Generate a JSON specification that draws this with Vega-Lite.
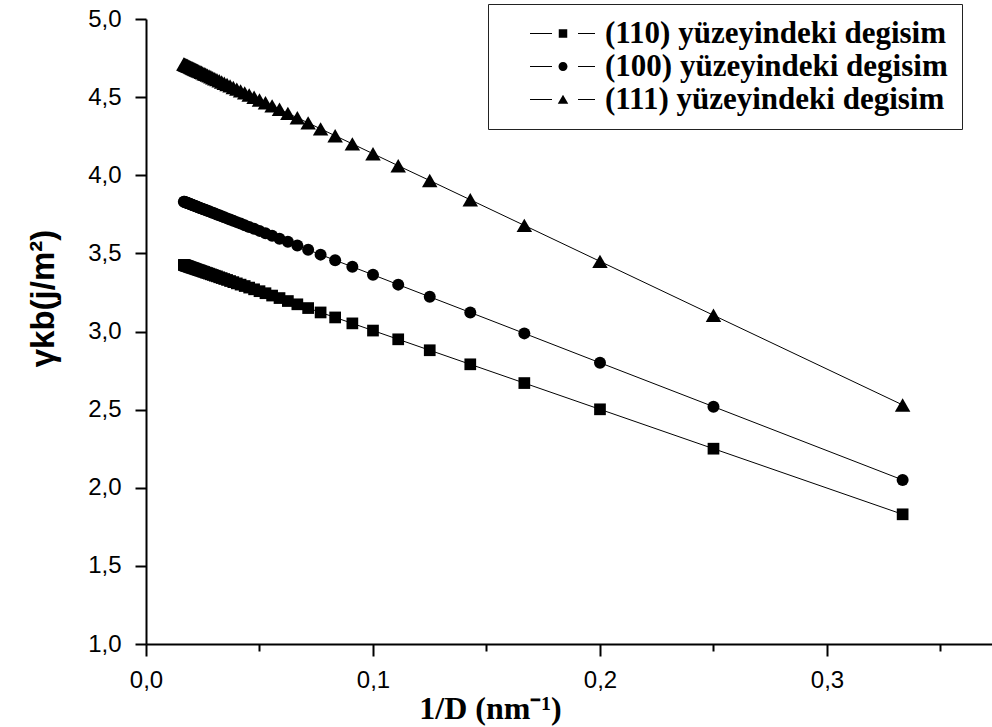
{
  "$schema": "https://vega.github.io/schema/vega-lite/v6.json",
  "width": 846,
  "height": 625,
  "autosize": {"type": "none"},
  "padding": {"left": 146, "top": 19, "right": 0, "bottom": 83},
  "background": "white",
  "config": {
    "view": {"stroke": null},
    "axis": {
      "domainColor": "black",
      "domainWidth": 2,
      "tickColor": "black",
      "tickWidth": 2,
      "grid": false,
      "labelFont": "Liberation Sans",
      "labelFontSize": 24,
      "labelColor": "black",
      "labelOverlap": false,
      "labelFlush": false,
      "titleColor": "black"
    }
  },
  "data": {
    "values": [
      {"s": "(110) yüzeyindeki degisim", "x": 0.33333, "y": 1.830},
      {"s": "(110) yüzeyindeki degisim", "x": 0.25, "y": 2.250},
      {"s": "(110) yüzeyindeki degisim", "x": 0.2, "y": 2.502},
      {"s": "(110) yüzeyindeki degisim", "x": 0.16667, "y": 2.670},
      {"s": "(110) yüzeyindeki degisim", "x": 0.14286, "y": 2.790},
      {"s": "(110) yüzeyindeki degisim", "x": 0.125, "y": 2.880},
      {"s": "(110) yüzeyindeki degisim", "x": 0.11111, "y": 2.950},
      {"s": "(110) yüzeyindeki degisim", "x": 0.1, "y": 3.006},
      {"s": "(110) yüzeyindeki degisim", "x": 0.09091, "y": 3.052},
      {"s": "(110) yüzeyindeki degisim", "x": 0.08333, "y": 3.090},
      {"s": "(110) yüzeyindeki degisim", "x": 0.07692, "y": 3.122},
      {"s": "(110) yüzeyindeki degisim", "x": 0.07143, "y": 3.150},
      {"s": "(110) yüzeyindeki degisim", "x": 0.06667, "y": 3.174},
      {"s": "(110) yüzeyindeki degisim", "x": 0.0625, "y": 3.195},
      {"s": "(110) yüzeyindeki degisim", "x": 0.05882, "y": 3.214},
      {"s": "(110) yüzeyindeki degisim", "x": 0.05556, "y": 3.230},
      {"s": "(110) yüzeyindeki degisim", "x": 0.05263, "y": 3.245},
      {"s": "(110) yüzeyindeki degisim", "x": 0.05, "y": 3.258},
      {"s": "(110) yüzeyindeki degisim", "x": 0.04762, "y": 3.270},
      {"s": "(110) yüzeyindeki degisim", "x": 0.04545, "y": 3.281},
      {"s": "(110) yüzeyindeki degisim", "x": 0.04348, "y": 3.291},
      {"s": "(110) yüzeyindeki degisim", "x": 0.04167, "y": 3.300},
      {"s": "(110) yüzeyindeki degisim", "x": 0.04, "y": 3.308},
      {"s": "(110) yüzeyindeki degisim", "x": 0.03846, "y": 3.316},
      {"s": "(110) yüzeyindeki degisim", "x": 0.03704, "y": 3.323},
      {"s": "(110) yüzeyindeki degisim", "x": 0.03571, "y": 3.330},
      {"s": "(110) yüzeyindeki degisim", "x": 0.03448, "y": 3.336},
      {"s": "(110) yüzeyindeki degisim", "x": 0.03333, "y": 3.342},
      {"s": "(110) yüzeyindeki degisim", "x": 0.03226, "y": 3.347},
      {"s": "(110) yüzeyindeki degisim", "x": 0.03125, "y": 3.353},
      {"s": "(110) yüzeyindeki degisim", "x": 0.0303, "y": 3.357},
      {"s": "(110) yüzeyindeki degisim", "x": 0.02941, "y": 3.362},
      {"s": "(110) yüzeyindeki degisim", "x": 0.02857, "y": 3.366},
      {"s": "(110) yüzeyindeki degisim", "x": 0.02778, "y": 3.370},
      {"s": "(110) yüzeyindeki degisim", "x": 0.02703, "y": 3.374},
      {"s": "(110) yüzeyindeki degisim", "x": 0.02632, "y": 3.377},
      {"s": "(110) yüzeyindeki degisim", "x": 0.02564, "y": 3.381},
      {"s": "(110) yüzeyindeki degisim", "x": 0.025, "y": 3.384},
      {"s": "(110) yüzeyindeki degisim", "x": 0.02439, "y": 3.387},
      {"s": "(110) yüzeyindeki degisim", "x": 0.02381, "y": 3.390},
      {"s": "(110) yüzeyindeki degisim", "x": 0.02326, "y": 3.393},
      {"s": "(110) yüzeyindeki degisim", "x": 0.02273, "y": 3.395},
      {"s": "(110) yüzeyindeki degisim", "x": 0.02222, "y": 3.398},
      {"s": "(110) yüzeyindeki degisim", "x": 0.02174, "y": 3.400},
      {"s": "(110) yüzeyindeki degisim", "x": 0.02128, "y": 3.403},
      {"s": "(110) yüzeyindeki degisim", "x": 0.02083, "y": 3.405},
      {"s": "(110) yüzeyindeki degisim", "x": 0.02041, "y": 3.407},
      {"s": "(110) yüzeyindeki degisim", "x": 0.02, "y": 3.409},
      {"s": "(110) yüzeyindeki degisim", "x": 0.01961, "y": 3.411},
      {"s": "(110) yüzeyindeki degisim", "x": 0.01923, "y": 3.413},
      {"s": "(110) yüzeyindeki degisim", "x": 0.01887, "y": 3.415},
      {"s": "(110) yüzeyindeki degisim", "x": 0.01852, "y": 3.417},
      {"s": "(110) yüzeyindeki degisim", "x": 0.01818, "y": 3.418},
      {"s": "(110) yüzeyindeki degisim", "x": 0.01786, "y": 3.420},
      {"s": "(110) yüzeyindeki degisim", "x": 0.01754, "y": 3.422},
      {"s": "(110) yüzeyindeki degisim", "x": 0.01724, "y": 3.423},
      {"s": "(110) yüzeyindeki degisim", "x": 0.01695, "y": 3.425},
      {"s": "(110) yüzeyindeki degisim", "x": 0.01667, "y": 3.426},
      {"s": "(100) yüzeyindeki degisim", "x": 0.33333, "y": 2.050},
      {"s": "(100) yüzeyindeki degisim", "x": 0.25, "y": 2.519},
      {"s": "(100) yüzeyindeki degisim", "x": 0.2, "y": 2.800},
      {"s": "(100) yüzeyindeki degisim", "x": 0.16667, "y": 2.988},
      {"s": "(100) yüzeyindeki degisim", "x": 0.14286, "y": 3.122},
      {"s": "(100) yüzeyindeki degisim", "x": 0.125, "y": 3.222},
      {"s": "(100) yüzeyindeki degisim", "x": 0.11111, "y": 3.300},
      {"s": "(100) yüzeyindeki degisim", "x": 0.1, "y": 3.363},
      {"s": "(100) yüzeyindeki degisim", "x": 0.09091, "y": 3.414},
      {"s": "(100) yüzeyindeki degisim", "x": 0.08333, "y": 3.456},
      {"s": "(100) yüzeyindeki degisim", "x": 0.07692, "y": 3.492},
      {"s": "(100) yüzeyindeki degisim", "x": 0.07143, "y": 3.523},
      {"s": "(100) yüzeyindeki degisim", "x": 0.06667, "y": 3.550},
      {"s": "(100) yüzeyindeki degisim", "x": 0.0625, "y": 3.574},
      {"s": "(100) yüzeyindeki degisim", "x": 0.05882, "y": 3.594},
      {"s": "(100) yüzeyindeki degisim", "x": 0.05556, "y": 3.613},
      {"s": "(100) yüzeyindeki degisim", "x": 0.05263, "y": 3.629},
      {"s": "(100) yüzeyindeki degisim", "x": 0.05, "y": 3.644},
      {"s": "(100) yüzeyindeki degisim", "x": 0.04762, "y": 3.657},
      {"s": "(100) yüzeyindeki degisim", "x": 0.04545, "y": 3.669},
      {"s": "(100) yüzeyindeki degisim", "x": 0.04348, "y": 3.680},
      {"s": "(100) yüzeyindeki degisim", "x": 0.04167, "y": 3.691},
      {"s": "(100) yüzeyindeki degisim", "x": 0.04, "y": 3.700},
      {"s": "(100) yüzeyindeki degisim", "x": 0.03846, "y": 3.709},
      {"s": "(100) yüzeyindeki degisim", "x": 0.03704, "y": 3.717},
      {"s": "(100) yüzeyindeki degisim", "x": 0.03571, "y": 3.724},
      {"s": "(100) yüzeyindeki degisim", "x": 0.03448, "y": 3.731},
      {"s": "(100) yüzeyindeki degisim", "x": 0.03333, "y": 3.738},
      {"s": "(100) yüzeyindeki degisim", "x": 0.03226, "y": 3.744},
      {"s": "(100) yüzeyindeki degisim", "x": 0.03125, "y": 3.749},
      {"s": "(100) yüzeyindeki degisim", "x": 0.0303, "y": 3.755},
      {"s": "(100) yüzeyindeki degisim", "x": 0.02941, "y": 3.760},
      {"s": "(100) yüzeyindeki degisim", "x": 0.02857, "y": 3.764},
      {"s": "(100) yüzeyindeki degisim", "x": 0.02778, "y": 3.769},
      {"s": "(100) yüzeyindeki degisim", "x": 0.02703, "y": 3.773},
      {"s": "(100) yüzeyindeki degisim", "x": 0.02632, "y": 3.777},
      {"s": "(100) yüzeyindeki degisim", "x": 0.02564, "y": 3.781},
      {"s": "(100) yüzeyindeki degisim", "x": 0.025, "y": 3.784},
      {"s": "(100) yüzeyindeki degisim", "x": 0.02439, "y": 3.788},
      {"s": "(100) yüzeyindeki degisim", "x": 0.02381, "y": 3.791},
      {"s": "(100) yüzeyindeki degisim", "x": 0.02326, "y": 3.794},
      {"s": "(100) yüzeyindeki degisim", "x": 0.02273, "y": 3.797},
      {"s": "(100) yüzeyindeki degisim", "x": 0.02222, "y": 3.800},
      {"s": "(100) yüzeyindeki degisim", "x": 0.02174, "y": 3.803},
      {"s": "(100) yüzeyindeki degisim", "x": 0.02128, "y": 3.805},
      {"s": "(100) yüzeyindeki degisim", "x": 0.02083, "y": 3.808},
      {"s": "(100) yüzeyindeki degisim", "x": 0.02041, "y": 3.810},
      {"s": "(100) yüzeyindeki degisim", "x": 0.02, "y": 3.813},
      {"s": "(100) yüzeyindeki degisim", "x": 0.01961, "y": 3.815},
      {"s": "(100) yüzeyindeki degisim", "x": 0.01923, "y": 3.817},
      {"s": "(100) yüzeyindeki degisim", "x": 0.01887, "y": 3.819},
      {"s": "(100) yüzeyindeki degisim", "x": 0.01852, "y": 3.821},
      {"s": "(100) yüzeyindeki degisim", "x": 0.01818, "y": 3.823},
      {"s": "(100) yüzeyindeki degisim", "x": 0.01786, "y": 3.825},
      {"s": "(100) yüzeyindeki degisim", "x": 0.01754, "y": 3.826},
      {"s": "(100) yüzeyindeki degisim", "x": 0.01724, "y": 3.828},
      {"s": "(100) yüzeyindeki degisim", "x": 0.01695, "y": 3.830},
      {"s": "(100) yüzeyindeki degisim", "x": 0.01667, "y": 3.831},
      {"s": "(111) yüzeyindeki degisim", "x": 0.33333, "y": 2.530},
      {"s": "(111) yüzeyindeki degisim", "x": 0.25, "y": 3.104},
      {"s": "(111) yüzeyindeki degisim", "x": 0.2, "y": 3.449},
      {"s": "(111) yüzeyindeki degisim", "x": 0.16667, "y": 3.679},
      {"s": "(111) yüzeyindeki degisim", "x": 0.14286, "y": 3.843},
      {"s": "(111) yüzeyindeki degisim", "x": 0.125, "y": 3.966},
      {"s": "(111) yüzeyindeki degisim", "x": 0.11111, "y": 4.061},
      {"s": "(111) yüzeyindeki degisim", "x": 0.1, "y": 4.138},
      {"s": "(111) yüzeyindeki degisim", "x": 0.09091, "y": 4.201},
      {"s": "(111) yüzeyindeki degisim", "x": 0.08333, "y": 4.253},
      {"s": "(111) yüzeyindeki degisim", "x": 0.07692, "y": 4.297},
      {"s": "(111) yüzeyindeki degisim", "x": 0.07143, "y": 4.335},
      {"s": "(111) yüzeyindeki degisim", "x": 0.06667, "y": 4.368},
      {"s": "(111) yüzeyindeki degisim", "x": 0.0625, "y": 4.396},
      {"s": "(111) yüzeyindeki degisim", "x": 0.05882, "y": 4.422},
      {"s": "(111) yüzeyindeki degisim", "x": 0.05556, "y": 4.444},
      {"s": "(111) yüzeyindeki degisim", "x": 0.05263, "y": 4.464},
      {"s": "(111) yüzeyindeki degisim", "x": 0.05, "y": 4.482},
      {"s": "(111) yüzeyindeki degisim", "x": 0.04762, "y": 4.499},
      {"s": "(111) yüzeyindeki degisim", "x": 0.04545, "y": 4.514},
      {"s": "(111) yüzeyindeki degisim", "x": 0.04348, "y": 4.527},
      {"s": "(111) yüzeyindeki degisim", "x": 0.04167, "y": 4.540},
      {"s": "(111) yüzeyindeki degisim", "x": 0.04, "y": 4.551},
      {"s": "(111) yüzeyindeki degisim", "x": 0.03846, "y": 4.562},
      {"s": "(111) yüzeyindeki degisim", "x": 0.03704, "y": 4.572},
      {"s": "(111) yüzeyindeki degisim", "x": 0.03571, "y": 4.581},
      {"s": "(111) yüzeyindeki degisim", "x": 0.03448, "y": 4.589},
      {"s": "(111) yüzeyindeki degisim", "x": 0.03333, "y": 4.597},
      {"s": "(111) yüzeyindeki degisim", "x": 0.03226, "y": 4.605},
      {"s": "(111) yüzeyindeki degisim", "x": 0.03125, "y": 4.612},
      {"s": "(111) yüzeyindeki degisim", "x": 0.0303, "y": 4.618},
      {"s": "(111) yüzeyindeki degisim", "x": 0.02941, "y": 4.624},
      {"s": "(111) yüzeyindeki degisim", "x": 0.02857, "y": 4.630},
      {"s": "(111) yüzeyindeki degisim", "x": 0.02778, "y": 4.636},
      {"s": "(111) yüzeyindeki degisim", "x": 0.02703, "y": 4.641},
      {"s": "(111) yüzeyindeki degisim", "x": 0.02632, "y": 4.646},
      {"s": "(111) yüzeyindeki degisim", "x": 0.02564, "y": 4.650},
      {"s": "(111) yüzeyindeki degisim", "x": 0.025, "y": 4.655},
      {"s": "(111) yüzeyindeki degisim", "x": 0.02439, "y": 4.659},
      {"s": "(111) yüzeyindeki degisim", "x": 0.02381, "y": 4.663},
      {"s": "(111) yüzeyindeki degisim", "x": 0.02326, "y": 4.667},
      {"s": "(111) yüzeyindeki degisim", "x": 0.02273, "y": 4.670},
      {"s": "(111) yüzeyindeki degisim", "x": 0.02222, "y": 4.674},
      {"s": "(111) yüzeyindeki degisim", "x": 0.02174, "y": 4.677},
      {"s": "(111) yüzeyindeki degisim", "x": 0.02128, "y": 4.680},
      {"s": "(111) yüzeyindeki degisim", "x": 0.02083, "y": 4.683},
      {"s": "(111) yüzeyindeki degisim", "x": 0.02041, "y": 4.686},
      {"s": "(111) yüzeyindeki degisim", "x": 0.02, "y": 4.689},
      {"s": "(111) yüzeyindeki degisim", "x": 0.01961, "y": 4.692},
      {"s": "(111) yüzeyindeki degisim", "x": 0.01923, "y": 4.695},
      {"s": "(111) yüzeyindeki degisim", "x": 0.01887, "y": 4.697},
      {"s": "(111) yüzeyindeki degisim", "x": 0.01852, "y": 4.699},
      {"s": "(111) yüzeyindeki degisim", "x": 0.01818, "y": 4.702},
      {"s": "(111) yüzeyindeki degisim", "x": 0.01786, "y": 4.704},
      {"s": "(111) yüzeyindeki degisim", "x": 0.01754, "y": 4.706},
      {"s": "(111) yüzeyindeki degisim", "x": 0.01724, "y": 4.708},
      {"s": "(111) yüzeyindeki degisim", "x": 0.01695, "y": 4.710},
      {"s": "(111) yüzeyindeki degisim", "x": 0.01667, "y": 4.712}
    ]
  },
  "resolve": {"scale": {"shape": "independent"}},
  "layer": [
    {
      "mark": {"type": "line", "color": "black", "strokeWidth": 1},
      "encoding": {
        "x": {
          "field": "x", "type": "quantitative",
          "scale": {"domain": [0, 0.3727], "nice": false, "zero": false},
          "axis": {
            "values": [0, 0.05, 0.1, 0.15, 0.2, 0.25, 0.3, 0.35],
            "labelExpr": "round(datum.value*20)%2==0 ? replace(format(datum.value,'.1f'),'.',',') : ''",
            "tickSize": {"condition": {"test": "round(datum.value*20)%2==0", "value": 12}, "value": 7},
            "labelFontSize": 24,
            "labelFont": "Liberation Sans",
            "labelPadding": 12,
            "title": "1/D (nm⁻¹)",
            "titleFont": "Liberation Serif",
            "titleFontWeight": "bold",
            "titleFontSize": 32,
            "titleX": 344,
            "titleY": 74,
            "titleBaseline": "alphabetic",
            "titleAlign": "center"
          }
        },
        "y": {
          "field": "y", "type": "quantitative",
          "scale": {"domain": [1, 5], "nice": false, "zero": false},
          "axis": {
            "values": [1, 1.25, 1.5, 1.75, 2, 2.25, 2.5, 2.75, 3, 3.25, 3.5, 3.75, 4, 4.25, 4.5, 4.75, 5],
            "labelExpr": "round(datum.value*4)%2==0 ? replace(format(datum.value,'.1f'),'.',',') : ''",
            "tickSize": {"condition": {"test": "round(datum.value*4)%2==0", "value": 11}, "value": 6},
            "labelFontSize": 24,
            "labelFont": "Liberation Sans",
            "labelPadding": 14,
            "title": "γkb(j/m²)",
            "titleFont": "Liberation Sans",
            "titleFontWeight": "bold",
            "titleFontSize": 33,
            "titleAngle": -90,
            "titleX": -93,
            "titleY": 279,
            "titleBaseline": "alphabetic",
            "titleAlign": "center"
          }
        },
        "detail": {"field": "s"}
      }
    },
    {
      "mark": {"type": "point", "filled": true, "color": "black", "opacity": 1},
      "encoding": {
        "x": {"field": "x", "type": "quantitative"},
        "y": {"field": "y", "type": "quantitative"},
        "shape": {
          "field": "s", "type": "nominal",
          "scale": {
            "domain": ["(110) yüzeyindeki degisim", "(100) yüzeyindeki degisim", "(111) yüzeyindeki degisim"],
            "range": ["square", "circle", "triangle-up"]
          },
          "legend": null
        },
        "size": {
          "field": "s", "type": "nominal",
          "scale": {
            "type": "ordinal",
            "domain": ["(110) yüzeyindeki degisim", "(100) yüzeyindeki degisim", "(111) yüzeyindeki degisim"],
            "range": [137, 144, 240]
          },
          "legend": null
        }
      }
    },
    {
      "mark": {"type": "point", "filled": true, "color": "black", "opacity": 0},
      "encoding": {
        "x": {"field": "x", "type": "quantitative"},
        "y": {"field": "y", "type": "quantitative"},
        "shape": {
          "field": "s", "type": "nominal",
          "scale": {
            "domain": ["(110) yüzeyindeki degisim", "(100) yüzeyindeki degisim", "(111) yüzeyindeki degisim"],
            "range": [
              "M-12.2,0M-6.6,-0.1H-2.2V0.1H-6.6ZM-0.85,-0.85H0.85V0.85H-0.85ZM3,-0.1H6.4V0.1H3Z",
              "M-12.2,0M-6.6,-0.1H-2.2V0.1H-6.6ZM-0.9,0A0.9,0.9,0,1,1,0.9,0A0.9,0.9,0,1,1,-0.9,0ZM3,-0.1H6.4V0.1H3Z",
              "M-12.2,0M-6.6,-0.1H-2.2V0.1H-6.6ZM0,-0.95L1.05,0.85H-1.05ZM3,-0.1H6.4V0.1H3Z"
            ]
          },
          "legend": {
            "title": null,
            "orient": "none",
            "legendX": 342,
            "legendY": -15,
            "padding": 14,
            "strokeColor": "#222222",
            "fillColor": "white",
            "labelFont": "Liberation Serif",
            "labelFontWeight": "bold",
            "labelFontSize": 31,
            "labelColor": "black",
            "labelLimit": 0,
            "labelOffset": 26.5,
            "labelExpr": "datum.label + '\u00a0\u00a0\u00a0'",
            "symbolSize": 100,
            "symbolOffset": 45.5,
            "symbolOpacity": 1,
            "rowPadding": 1,
            "encode": {
              "legend": {"strokeWidth": {"value": 2}},
              "symbols": {
                "fill": {"value": "black"},
                "opacity": {"value": 1}
              }
            }
          }
        }
      }
    }
  ]
}
